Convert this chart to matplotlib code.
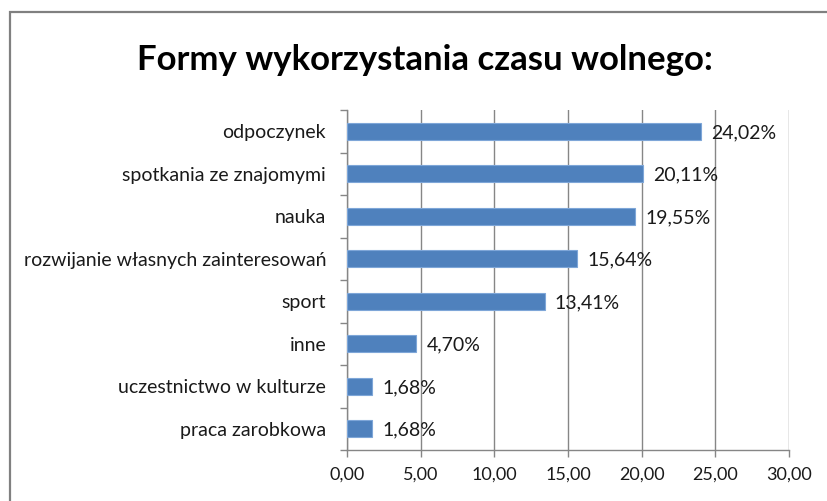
import matplotlib
matplotlib.use("Agg")
import matplotlib.pyplot as plt
from matplotlib.patches import Rectangle
import numpy as np

# dane z wykresu (od góry do dołu)
kategorie = ["odpoczynek", "spotkania ze znajomymi", "nauka",
             "rozwijanie własnych zainteresowań", "sport", "inne",
             "uczestnictwo w kulturze", "praca zarobkowa"]
wartosci = [24.02, 20.11, 19.55, 15.64, 13.41, 4.70, 1.68, 1.68]
x_ticks = [0, 5, 10, 15, 20, 25, 30]

plt.rcParams['font.family'] = ['Lato', 'DejaVu Sans']

fig = plt.figure(figsize=(8.27, 5.01), dpi=100)
ax = fig.add_axes([347/827, 1-450/501, (789-347)/827, (450-110)/501])

n = len(kategorie)
y = np.arange(n)[::-1]
ax.barh(y, wartosci, height=0.4, color='#4F81BD', edgecolor='#7EA6D8', linewidth=0.8, zorder=3)

for yi, v in zip(y, wartosci):
    ax.text(v + 0.7, yi - 0.03, f"{v:.2f}%".replace('.', ','), va='center', ha='left',
            fontsize=14, color='#1a1a1a', zorder=4)

ax.set_xlim(0, 30)
ax.set_ylim(-0.5, n - 0.5)
ax.set_xticks(x_ticks)
ax.set_xticklabels([f"{t:.2f}".replace('.', ',') for t in x_ticks])
ax.set_yticks(y)
ax.set_yticklabels(kategorie)
ax.set_yticks(np.arange(-0.5, n, 1.0), minor=True)

ax.tick_params(axis='y', which='major', length=0, pad=15, labelsize=14, labelcolor='#1a1a1a')
ax.tick_params(axis='y', which='minor', length=5, width=1, color='#868686', direction='out')
ax.tick_params(axis='x', which='major', length=5, width=1, color='#868686', pad=7,
               labelsize=13, labelcolor='#1a1a1a')

ax.grid(axis='x', color='#868686', linewidth=1, zorder=0)
ax.grid(axis='y', visible=False)
for s in ['top', 'right']:
    ax.spines[s].set_visible(False)
for s in ['left', 'bottom']:
    ax.spines[s].set_color('#868686')
    ax.spines[s].set_linewidth(1)

fig.text(425/827, 1-70/501, "Formy wykorzystania czasu wolnego:", ha='center', va='baseline',
         fontsize=25, fontweight='bold', color='black')

# ramka wykresu
fig.add_artist(Rectangle((10/827, -0.2), 1.2, (501-12)/501 + 0.2, transform=fig.transFigure,
                         fill=False, edgecolor='#808080', linewidth=1.6))

fig.savefig("out.png", dpi=100)
